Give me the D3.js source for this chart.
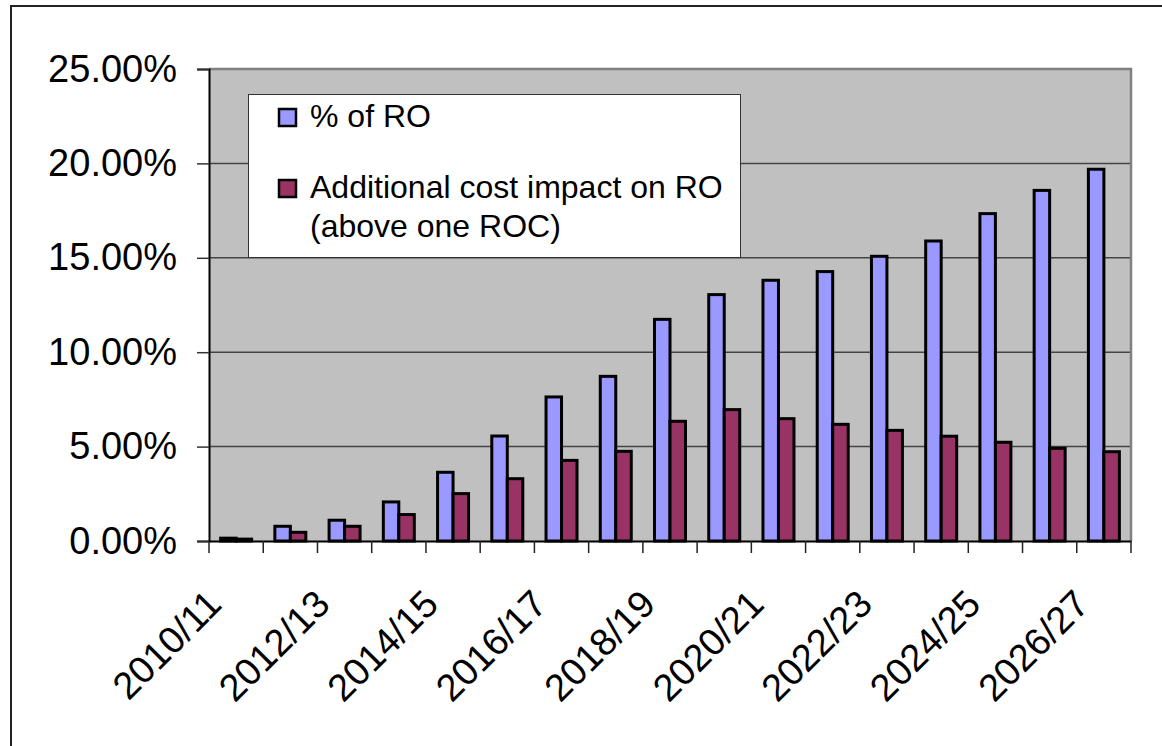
<!DOCTYPE html>
<html>
<head>
<meta charset="utf-8">
<script src="https://cdn.jsdelivr.net/npm/d3@7"></script>
<style>
  body { margin: 0; background: #fff; }
  svg { display: block; font-family: "Liberation Sans", Arial, sans-serif; }
</style>
</head>
<body>
<div id="chart"></div>
<script>
// data
var categories = ["2010/11", "2011/12", "2012/13", "2013/14", "2014/15", "2015/16", "2016/17", "2017/18",
  "2018/19", "2019/20", "2020/21", "2021/22", "2022/23", "2023/24", "2024/25", "2025/26", "2026/27"];
var pctOfRO = [0.15, 0.78, 1.10, 2.07, 3.64, 5.56, 7.63, 8.72, 11.74, 13.05, 13.81, 14.27, 15.08, 15.89, 17.34, 18.57, 19.69];
var addCostImpact = [0.10, 0.46, 0.78, 1.40, 2.51, 3.30, 4.27, 4.75, 6.34, 6.96, 6.48, 6.18, 5.86, 5.55, 5.23, 4.91, 4.73];
var seriesNames = ["% of RO", "Additional cost impact on RO (above one ROC)"];
var yTicks = [0, 5, 10, 15, 20, 25];

var W = 1162, H = 746;
var plot = {left: 209, right: 1131, top: 69, bottom: 541};
var colors = ["#9999ff", "#993366"];

var svg = d3.select("#chart")
  .append("svg")
    .attr("width", W)
    .attr("height", H);

// outer frame (only top and left edges visible)
svg.append("path")
  .attr("d", "M11," + H + "V6H" + W)
  .attr("fill", "none")
  .attr("stroke", "#222")
  .attr("stroke-width", 2);

// scales
var x = d3.scaleBand()
  .domain(categories)
  .range([plot.left, plot.right])
  .paddingInner(0).paddingOuter(0);

var x1 = d3.scaleBand()
  .domain([0, 1])
  .range([0, x.bandwidth()])
  .paddingInner(0).paddingOuter(0.75);

var y = d3.scaleLinear()
  .domain([0, 25])
  .range([plot.bottom, plot.top]);

// plot background
svg.append("rect")
  .attr("x", plot.left)
  .attr("y", plot.top)
  .attr("width", plot.right - plot.left)
  .attr("height", plot.bottom - plot.top)
  .attr("fill", "#c0c0c0");

// gridlines
svg.append("g")
  .selectAll("line")
  .data(yTicks.filter(function(d) { return d > 0 && d < 25; }))
  .enter()
  .append("line")
    .attr("x1", plot.left)
    .attr("x2", plot.right)
    .attr("y1", function(d) { return y(d); })
    .attr("y2", function(d) { return y(d); })
    .attr("stroke", "#444")
    .attr("stroke-width", 1.5);

// plot border top / right
svg.append("path")
  .attr("d", "M" + plot.left + "," + plot.top + "H" + plot.right + "V" + plot.bottom)
  .attr("fill", "none")
  .attr("stroke", "#808080")
  .attr("stroke-width", 2.5);

// bars
var groups = svg.append("g")
  .selectAll("g")
  .data(categories)
  .enter()
  .append("g")
    .attr("transform", function(d) { return "translate(" + x(d) + ",0)"; });

groups.selectAll("rect")
  .data(function(d, i) { return [pctOfRO[i], addCostImpact[i]]; })
  .enter()
  .append("rect")
    .attr("x", function(d, j) { return x1(j); })
    .attr("y", function(d) { return y(d); })
    .attr("width", x1.bandwidth())
    .attr("height", function(d) { return y(0) - y(d); })
    .attr("fill", function(d, j) { return colors[j]; })
    .attr("stroke", "#000")
    .attr("stroke-width", 3);

// y axis
var yAxis = svg.append("g")
  .attr("transform", "translate(" + plot.left + ",0)")
  .call(d3.axisLeft(y).tickValues(yTicks).tickSize(12).tickPadding(20)
    .tickFormat(function(d) { return d3.format(".2f")(d) + "%"; }));
yAxis.select(".domain").attr("stroke", "#000").attr("stroke-width", 2);
yAxis.selectAll(".tick line").attr("stroke", "#333").attr("stroke-width", 1.5);
yAxis.selectAll(".tick text")
  .attr("font-size", "38px")
  .attr("fill", "#000")
  .attr("font-family", "Liberation Sans, Arial, sans-serif");

// x axis
var xAxis = svg.append("g")
  .attr("transform", "translate(0," + plot.bottom + ")")
  .call(d3.axisBottom(x).tickSize(0).tickFormat(""));
xAxis.select(".domain").attr("stroke", "#000").attr("stroke-width", 2);

// category boundary ticks
svg.append("g")
  .selectAll("line")
  .data(categories.concat(["end"]))
  .enter()
  .append("line")
    .attr("x1", function(d, i) { return plot.left + i * x.step(); })
    .attr("x2", function(d, i) { return plot.left + i * x.step(); })
    .attr("y1", plot.bottom)
    .attr("y2", plot.bottom + 12)
    .attr("stroke", "#222")
    .attr("stroke-width", 1.5);

// x labels (every other category, rotated)
svg.append("g")
  .selectAll("text")
  .data(categories.filter(function(d, i) { return i % 2 === 0; }))
  .enter()
  .append("text")
    .attr("transform", function(d) {
      var cx = x(d) + x.bandwidth() / 2 - 22;
      return "translate(" + cx + ",597) rotate(-45)";
    })
    .attr("text-anchor", "end")
    .attr("dy", "0.35em")
    .attr("font-size", "38px")
    .attr("fill", "#000")
    .text(function(d) { return d; });

// legend
var legend = svg.append("g");
legend.append("rect")
  .attr("x", 248.5)
  .attr("y", 94.5)
  .attr("width", 492)
  .attr("height", 163)
  .attr("fill", "#fff")
  .attr("stroke", "#333")
  .attr("stroke-width", 1);

var legendRows = [
  {lines: ["% of RO"], y: 127},
  {lines: ["Additional cost impact on RO", "(above one ROC)"], y: 198}
];
legendRows.forEach(function(row, i) {
  legend.append("rect")
    .attr("x", 279)
    .attr("y", row.y - 18)
    .attr("width", 17)
    .attr("height", 17)
    .attr("fill", colors[i])
    .attr("stroke", "#000")
    .attr("stroke-width", 2.5);
  row.lines.forEach(function(t, k) {
    legend.append("text")
      .attr("x", 310)
      .attr("y", row.y + k * 39)
      .attr("font-size", "32px")
      .attr("fill", "#000")
      .text(t);
  });
});
</script>
</body>
</html>
